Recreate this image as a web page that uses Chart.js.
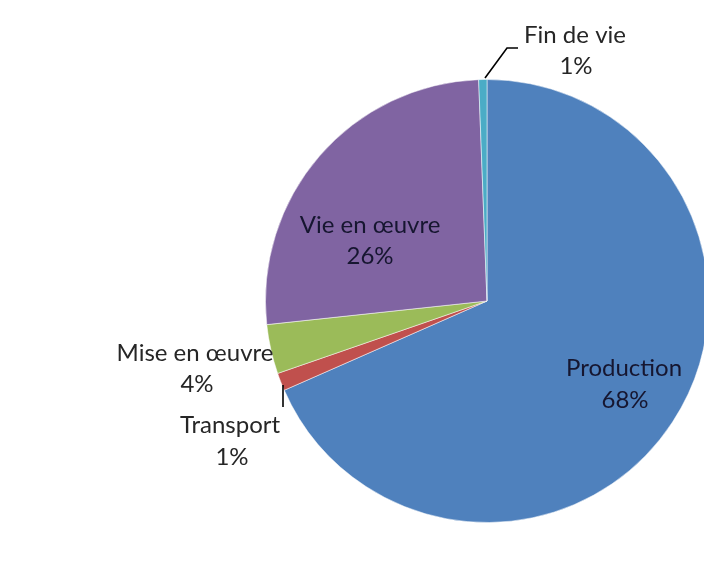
<!DOCTYPE html>
<html>
<head>
<meta charset="utf-8">
<script src="https://cdn.jsdelivr.net/npm/chart.js@4"></script>
<style>
  html, body { margin: 0; padding: 0; background: #fff; overflow: hidden; }
  #wrap { position: absolute; left: 0; top: 0; width: 712px; height: 583px; }
</style>
</head>
<body>
<div id="wrap"><canvas id="myChart"></canvas></div>
<script>
// slices, clockwise from 12 o'clock
var categories = ['Production', 'Transport', 'Mise en œuvre', 'Vie en œuvre', 'Fin de vie'];
var shares = [68.4, 1.3, 3.6, 26.1, 0.6];
var pctLabels = ['68%', '1%', '4%', '26%', '1%'];
var colors = ['#4F81BD', '#C0504D', '#9BBB59', '#8064A2', '#4BACC6'];

// label centres relative to the pie centre (first line, second line)
var labelOffsets = [
    [[137, 67], [138, 99]],
    [[-257, 124], [-255, 156]],
    [[-292, 52], [-290, 83]],
    [[-117, -76], [-117, -45]],
    [[88, -266], [89, -235]]
];
// leader lines, also relative to the pie centre
var leaders = [
    { idx: 1, pts: [[-204, 84], [-204, 106]] },
    { idx: 4, pts: [[-2, -223], [20, -253], [31, -253]] }
];

const labelPlugin = {
    id: 'pieLabels',
    afterDatasetsDraw(chart) {
        const ctx = chart.ctx;
        const arcs = chart.getDatasetMeta(0).data;
        const cx = arcs[0].x, cy = arcs[0].y;
        ctx.save();
        ctx.strokeStyle = '#000';
        ctx.lineWidth = 1.6;
        leaders.forEach(l => {
            ctx.beginPath();
            l.pts.forEach((p, i) => {
                if (i === 0) ctx.moveTo(cx + p[0], cy + p[1]);
                else ctx.lineTo(cx + p[0], cy + p[1]);
            });
            ctx.stroke();
        });
        ctx.font = '24px Lato';
        ctx.textAlign = 'center';
        ctx.textBaseline = 'middle';
        categories.forEach((name, i) => {
            const o = labelOffsets[i];
            ctx.fillStyle = (i === 0 || i === 3) ? '#161630' : '#262626';
            ctx.fillText(name, cx + o[0][0], cy + o[0][1]);
            ctx.fillText(pctLabels[i], cx + o[1][0], cy + o[1][1]);
        });
        ctx.restore();
    }
};

const ctx = document.getElementById('myChart').getContext('2d');
new Chart(ctx, {
    type: 'pie',
    data: {
        labels: categories,
        datasets: [{
            data: shares,
            backgroundColor: colors,
            borderColor: 'rgba(255,255,255,0.5)',
            borderWidth: 1,
            hoverOffset: 0
        }]
    },
    options: {
        responsive: true,
        maintainAspectRatio: false,
        animation: false,
        layout: { padding: { left: 265, right: 3, top: 79, bottom: 60 } },
        plugins: {
            legend: { display: false },
            tooltip: { enabled: false }
        }
    },
    plugins: [labelPlugin]
});
</script>
</body>
</html>
